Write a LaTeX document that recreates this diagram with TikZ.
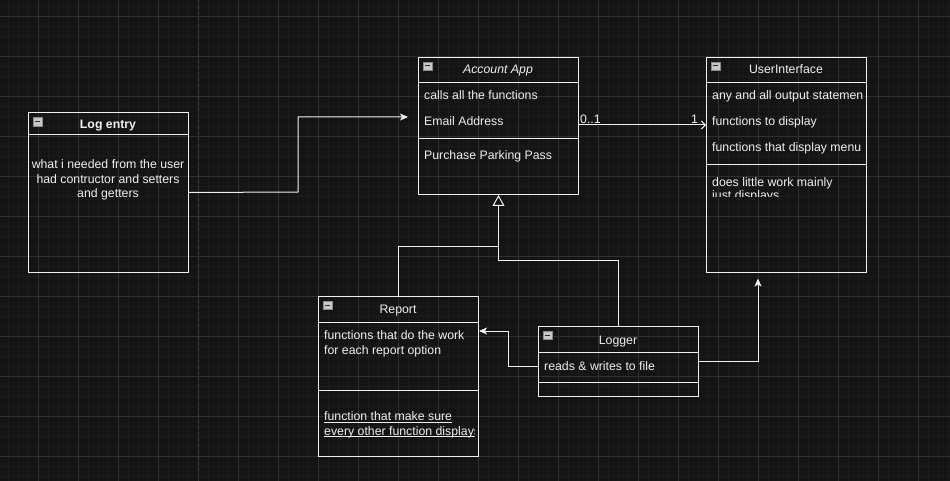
\documentclass[tikz,border=0pt]{standalone}
\usepackage{fontspec}
\setmainfont{Liberation Sans}
\usetikzlibrary{arrows.meta}
\definecolor{bg}{HTML}{141414}
\definecolor{gmaj}{HTML}{2F2F2F}
\definecolor{gmin}{HTML}{1C1C1C}
\definecolor{fg}{HTML}{F0F0F0}
\definecolor{pgline}{HTML}{3E3E3E}
\definecolor{iconfill}{HTML}{C8C8C8}
\definecolor{iconedge}{HTML}{8A8A8A}
\definecolor{icondark}{HTML}{303030}
\begin{document}
\begin{tikzpicture}[x=1pt,y=-1pt,
  classbox/.style={draw=fg, line width=1pt, inner sep=0pt, anchor=north west},
  divider/.style={draw=fg, line width=1pt},
  txt/.style={text=fg, inner sep=0pt, font=\fontsize{12.3pt}{14pt}\selectfont},
  conn/.style={draw=fg, line width=1pt},
  filledtip/.style={-{Stealth[length=8pt,width=7pt,inset=2pt]}},
  opentip/.style={-{Straight Barb[length=4pt,width=8pt]}},
  inherit/.style={-{Triangle[open,length=11pt,width=12pt,fill=bg]}},
  icon/.style={fill=iconfill, draw=iconedge, line width=0.5pt}
]
\useasboundingbox (0,0) rectangle (950,481);
\fill[bg] (0,0) rectangle (950,481);
% grid
\foreach \x in {8,18,...,948} \draw[gmin, line width=0.8pt] (\x,0) -- (\x,481);
\foreach \y in {6,16,...,476} \draw[gmin, line width=0.8pt] (0,\y) -- (950,\y);
\foreach \x in {38,78,...,918} \draw[gmaj, line width=0.8pt] (\x,0) -- (\x,481);
\foreach \y in {16,56,...,456} \draw[gmaj, line width=0.8pt] (0,\y) -- (950,\y);
\draw[pgline, line width=0.9pt, dash pattern=on 3pt off 3pt] (198,0) -- (198,481);

% ---------- Log entry ----------
\node[classbox, minimum width=160pt, minimum height=160pt] (log) at (28,112) {};
\draw[divider] (log.west |- 0,135) -- (log.east |- 0,135);
\draw[icon] (33,117) rectangle (42,126);
\draw[icondark, line width=1pt] (35,121.5) -- (40,121.5);
\node[txt, anchor=base, font=\fontsize{12.3pt}{14pt}\selectfont\bfseries] (logt) at (108,128.5) {Log entry};
\node[txt, anchor=base] (l1) at (108,169) {what i needed from the user};
\node[txt, anchor=base] (l2) at (108,183.5) {had contructor and setters};
\node[txt, anchor=base] (l3) at (108,198) {and getters};

% ---------- Account App ----------
\node[classbox, minimum width=160pt, minimum height=137pt] (acc) at (418,57) {};
\draw[divider] (acc.west |- 0,83) -- (acc.east |- 0,83);
\draw[divider] (acc.west |- 0,138.5) -- (acc.east |- 0,138.5);
\draw[icon] (423,62) rectangle (432,70);
\draw[icondark, line width=1pt] (425,66) -- (430,66);
\node[txt, anchor=base, font=\fontsize{12.3pt}{14pt}\selectfont\itshape] (acct) at (498,74) {Account App};
\node[txt, anchor=base west] (a1) at (424,100) {calls all the functions};
\node[txt, anchor=base west] (a2) at (424,126) {Email Address};
\node[txt, anchor=base west] (a3) at (424,160) {Purchase Parking Pass};

% ---------- UserInterface ----------
\node[classbox, minimum width=160pt, minimum height=215pt] (ui) at (706,57) {};
\draw[divider] (ui.west |- 0,83) -- (ui.east |- 0,83);
\draw[divider] (ui.west |- 0,164.5) -- (ui.east |- 0,164.5);
\draw[icon] (711,62) rectangle (720,70);
\draw[icondark, line width=1pt] (713,66) -- (718,66);
\node[txt, anchor=base] (uit) at (786,74) {UserInterface};
\begin{scope}
  \clip (707,84) rectangle (865,163);
  \node[txt, anchor=base west] (u1) at (712,100) {any and all output statemen};
\end{scope}
\node[txt, anchor=base west] (u2) at (712,126) {functions to display};
\node[txt, anchor=base west] (u3) at (712,152) {functions that display menu};
\node[txt, anchor=base west] (u4) at (712,186) {does little work mainly};
\begin{scope}
  \clip (707,186) rectangle (865,196.5);
  \node[txt, anchor=base west] (u5) at (712,199.5) {just displays};
\end{scope}

% ---------- Report ----------
\node[classbox, minimum width=160pt, minimum height=160pt] (rep) at (318,296) {};
\draw[divider] (rep.west |- 0,322) -- (rep.east |- 0,322);
\draw[divider] (rep.west |- 0,390) -- (rep.east |- 0,390);
\draw[icon] (323,301) rectangle (332,309);
\draw[icondark, line width=1pt] (325,305) -- (330,305);
\node[txt, anchor=base] (rept) at (398,313.5) {Report};
\node[txt, anchor=base west] (r1) at (324,339.5) {functions that do the work};
\node[txt, anchor=base west] (r2) at (324,354) {for each report option};
\node[txt, anchor=base west] (r3) at (324,420.5) {function that make sure};
\draw[fg, line width=0.8pt] ([yshift=-1.8pt]r3.base west) -- ([yshift=-1.8pt]r3.base east);
\begin{scope}
  \clip (319,425) rectangle (474.5,445);
  \node[txt, anchor=base west] (r4) at (324,435) {every other function displays};
  \draw[fg, line width=0.8pt] ([yshift=-1.8pt]r4.base west) -- ([yshift=-1.8pt]r4.base east);
\end{scope}

% ---------- Logger ----------
\node[classbox, minimum width=160pt, minimum height=70pt] (lgr) at (538,326) {};
\draw[divider] (lgr.west |- 0,352) -- (lgr.east |- 0,352);
\draw[divider] (lgr.west |- 0,382.5) -- (lgr.east |- 0,382.5);
\draw[icon] (543,331) rectangle (552,339);
\draw[icondark, line width=1pt] (545,335) -- (550,335);
\node[txt, anchor=base] (lgrt) at (618,344) {Logger};
\node[txt, anchor=base west] (g1) at (544,370) {reads \& writes to file};

% ---------- connectors ----------
\coordinate (accin) at (408,117);
\coordinate (uiin) at (758,278.5);
\draw[conn, filledtip] (log.east) -- (298,192) |- (accin);
\draw[conn, opentip] (acc.east |- 0,125) -- (ui.west |- 0,125);
\node[txt, anchor=base west] (m1) at (580,123.5) {0..1};
\node[txt, anchor=base west] (m2) at (691,123.5) {1};
\draw[conn] (lgr.north) |- (acc.south |- 0,260) -- (acc.south |- 0,246);
\draw[conn, inherit] (rep.north) |- (acc.south |- 0,246) -- (acc.south);
\draw[conn, filledtip] (lgr.west |- 0,366) -| (508,331) -- (rep.east |- 0,331);
\draw[conn, filledtip] (lgr.east |- 0,361) -| (uiin);
\end{tikzpicture}
\end{document}
